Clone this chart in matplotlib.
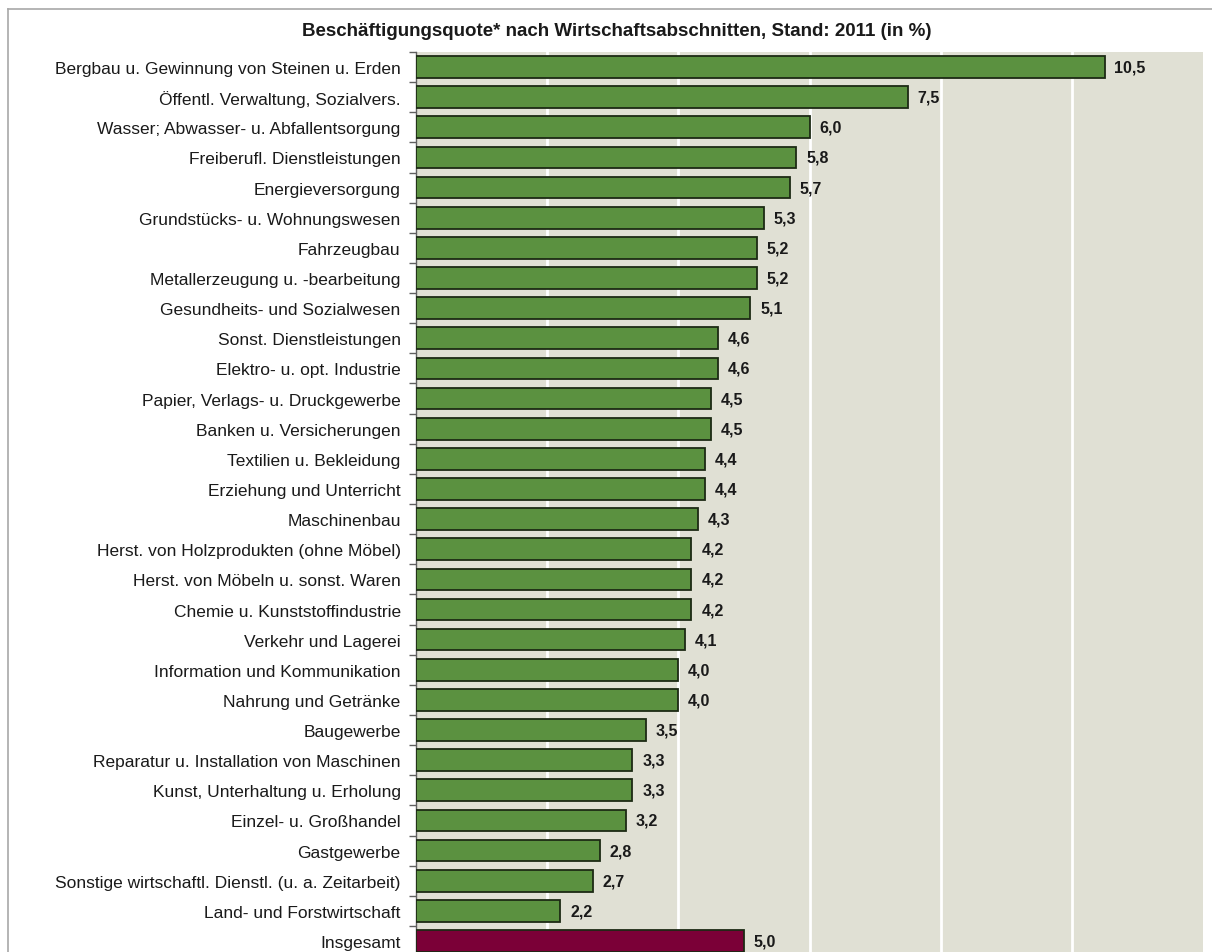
import matplotlib
matplotlib.use('Agg')
import matplotlib.pyplot as plt
from matplotlib.lines import Line2D

plt.rcParams['font.family'] = ['Liberation Sans', 'DejaVu Sans']

categories = [
    'Bergbau u. Gewinnung von Steinen u. Erden',
    'Öffentl. Verwaltung, Sozialvers.',
    'Wasser; Abwasser- u. Abfallentsorgung',
    'Freiberufl. Dienstleistungen',
    'Energieversorgung',
    'Grundstücks- u. Wohnungswesen',
    'Fahrzeugbau',
    'Metallerzeugung u. -bearbeitung',
    'Gesundheits- und Sozialwesen',
    'Sonst. Dienstleistungen',
    'Elektro- u. opt. Industrie',
    'Papier, Verlags- u. Druckgewerbe',
    'Banken u. Versicherungen',
    'Textilien u. Bekleidung',
    'Erziehung und Unterricht',
    'Maschinenbau',
    'Herst. von Holzprodukten (ohne Möbel)',
    'Herst. von Möbeln u. sonst. Waren',
    'Chemie u. Kunststoffindustrie',
    'Verkehr und Lagerei',
    'Information und Kommunikation',
    'Nahrung und Getränke',
    'Baugewerbe',
    'Reparatur u. Installation von Maschinen',
    'Kunst, Unterhaltung u. Erholung',
    'Einzel- u. Großhandel',
    'Gastgewerbe',
    'Sonstige wirtschaftl. Dienstl. (u. a. Zeitarbeit)',
    'Land- und Forstwirtschaft',
    'Insgesamt',
]
values = [10.5, 7.5, 6.0, 5.8, 5.7, 5.3, 5.2, 5.2, 5.1, 4.6, 4.6, 4.5, 4.5, 4.4,
          4.4, 4.3, 4.2, 4.2, 4.2, 4.1, 4.0, 4.0, 3.5, 3.3, 3.3, 3.2, 2.8, 2.7,
          2.2, 5.0]
title = 'Beschäftigungsquote* nach Wirtschaftsabschnitten, Stand: 2011 (in %)'

green = '#5b9140'
maroon = '#7b0037'
colors = [green] * (len(values) - 1) + [maroon]

W, H = 1212, 953
fig = plt.figure(figsize=(W / 100, H / 100), dpi=100)

# frame around the chart block
fig.add_artist(Line2D([8 / W, 8 / W], [0, 1 - 10 / H], color='#a8a8a8', lw=1.2))
fig.add_artist(Line2D([8 / W, 1], [1 - 10 / H, 1 - 10 / H], color='#a8a8a8', lw=1.2))

ax = fig.add_axes([416 / W, 0, (1203 - 416) / W, 1 - 53 / H])
ax.set_facecolor('#e0e0d4')

pos = list(range(len(values)))
ax.barh(pos, values, height=0.72, color=colors, edgecolor='#1c2a14', linewidth=1.3, zorder=3)

for y, v in zip(pos, values):
    ax.text(v + 0.15, y, f'{v:.1f}'.replace('.', ','), va='center', ha='left',
            fontsize=11.5, fontweight='bold', color='#1a1a1a', zorder=4)

ax.set_xlim(0, 12)
ax.set_ylim(len(values) - 1 + 0.365, -0.5)
ax.set_xticks([2, 4, 6, 8, 10])
ax.xaxis.grid(True, color='white', linewidth=2, zorder=1)
ax.tick_params(axis='x', length=0, labelbottom=False)

ax.set_yticks(pos)
ax.set_yticklabels(categories, fontsize=12.5, color='#1a1a1a')
ax.set_yticks([p + 0.5 for p in pos[:-1]] + [-0.5], minor=True)
ax.tick_params(axis='y', which='major', length=0, pad=11)
ax.tick_params(axis='y', which='minor', length=5, width=1, color='#606060')

for s in ['top', 'right', 'bottom']:
    ax.spines[s].set_visible(False)
ax.spines['left'].set_color('#606060')
ax.spines['left'].set_linewidth(1)

fig.text(617 / W, 1 - 32 / H, title, ha='center', va='center',
         fontsize=13.5, fontweight='bold', color='#1a1a1a')

fig.savefig('out.png', dpi=100)
